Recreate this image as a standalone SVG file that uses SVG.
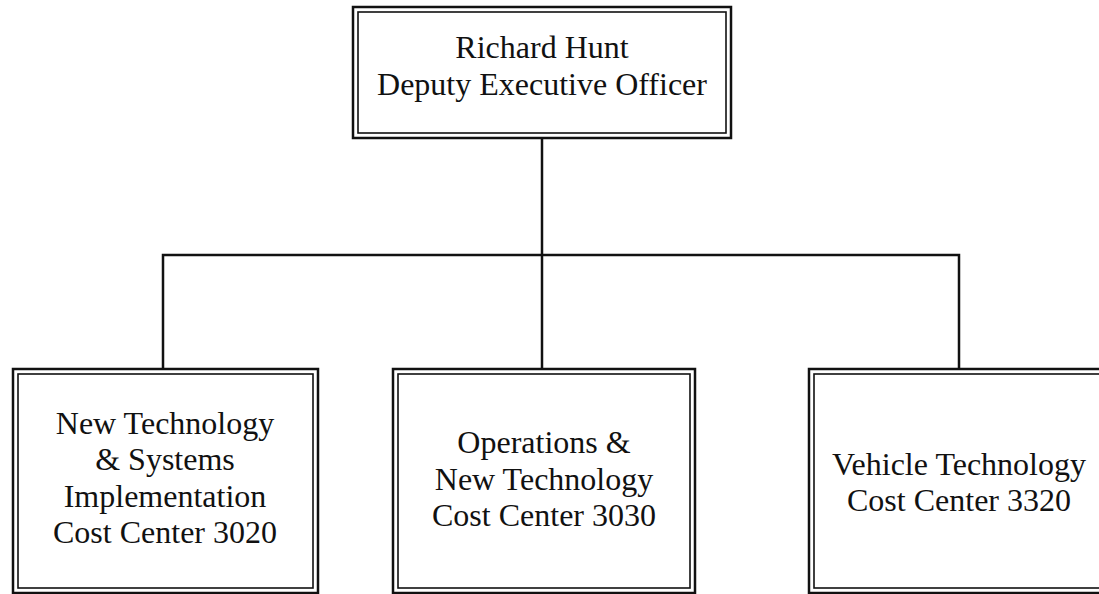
<svg xmlns="http://www.w3.org/2000/svg" width="1099" height="594" viewBox="0 0 1099 594">
<style>
.outer{fill:#fff;stroke:#111;stroke-width:2.5}
.inner{fill:none;stroke:#111;stroke-width:1.6}
.conn{fill:none;stroke:#111;stroke-width:2.5}
text{font-family:"Liberation Serif","Times New Roman",serif;font-size:32px;fill:#111;text-anchor:middle}
</style>
<rect width="1099" height="594" fill="#fff"/>
<g id="connectors">
<path class="conn" d="M542 138 V255"/>
<path class="conn" d="M163 369 V255 H959 V369"/>
<path class="conn" d="M542 255 V369"/>
</g>
<g id="node-deputy">
<rect class="outer" x="353" y="7" width="378" height="131"/>
<rect class="inner" x="358" y="12" width="368" height="121"/>
<text x="542" y="58">Richard Hunt</text>
<text x="542" y="95">Deputy Executive Officer</text>
</g>
<g id="node-3020">
<rect class="outer" x="13" y="369" width="305" height="224"/>
<rect class="inner" x="18" y="374" width="295" height="214"/>
<text x="165" y="434">New Technology</text>
<text x="165" y="470">&amp; Systems</text>
<text x="165" y="507">Implementation</text>
<text x="165" y="543">Cost Center 3020</text>
</g>
<g id="node-3030">
<rect class="outer" x="393" y="369" width="302" height="224"/>
<rect class="inner" x="398" y="374" width="292" height="214"/>
<text x="544" y="453">Operations &amp;</text>
<text x="544" y="490">New Technology</text>
<text x="544" y="526">Cost Center 3030</text>
</g>
<g id="node-3320">
<rect class="outer" x="809" y="369" width="302" height="224"/>
<rect class="inner" x="814" y="374" width="292" height="214"/>
<text x="959" y="475">Vehicle Technology</text>
<text x="959" y="511">Cost Center 3320</text>
</g>
</svg>
